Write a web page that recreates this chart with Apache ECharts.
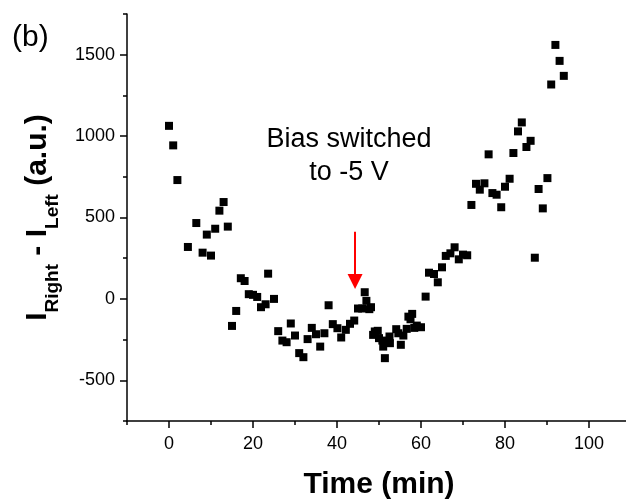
<!DOCTYPE html>
<html>
<head>
<meta charset="utf-8">
<script src="https://cdn.jsdelivr.net/npm/echarts@6/dist/echarts.min.js"></script>
<style>
html,body{margin:0;padding:0;background:#fff;overflow:hidden;}
#chart{width:626px;height:500px;}
</style>
</head>
<body>
<div id="chart"></div>
<script>
// Time (min)
var timeMin = [0.0,1.0,2.0,4.5,6.5,8.0,9.0,10.0,11.0,12.0,13.0,14.0,15.0,16.0,17.1,18.0,19.0,20.0,21.0,21.9,
  23.0,23.6,25.0,26.0,27.0,28.0,29.0,30.0,31.0,32.0,33.0,34.0,35.0,36.0,37.0,38.0,39.0,40.1,41.0,42.1,
  43.1,44.1,45.0,46.0,46.6,47.0,47.7,48.1,48.6,49.0,49.7,50.0,50.8,51.0,51.4,52.5,52.6,54.1,54.6,55.2,
  55.8,56.6,57.0,57.5,57.9,58.4,59.0,60.0,61.1,61.9,63.1,64.0,65.0,65.9,67.0,68.0,69.0,70.0,71.0,72.0,
  73.1,74.0,75.1,76.1,77.0,78.0,79.1,80.0,81.1,82.0,83.1,84.0,85.1,86.1,87.1,88.0,89.0,90.1,91.0,92.0,
  93.0,94.0];
// I_Right - I_Left (a.u.)
var diffValues = [1063,943,730,319,466,284,395,266,431,542,595,444,-166,-74,127,110,29,25,12,-51,
  -33,155,0,-198,-256,-266,-151,-225,-333,-358,-247,-178,-217,-293,-211,-39,-155,-180,-237,-190,
  -153,-133,-59,-59,41,-12,-63,-51,-221,-200,-196,-241,-256,-293,-364,-231,-272,-186,-211,-282,
  -225,-184,-109,-125,-92,-178,-164,-174,14,161,153,102,194,264,280,317,243,272,268,577,
  707,671,710,888,650,640,563,689,738,896,1029,1084,933,971,253,675,556,742,1317,1560,
  1462,1370];
var xMajorTicks = [0,20,40,60,80,100];
var yMajorTicks = [-500,0,500,1000,1500];
// arrow annotation (data coords): x, from y, to y
var arrowX = [44.3];
var arrowY = [413, 107];
var annotationText = ['Bias switched', 'to -5 V'];
var panelLabel = ['(b)'];

var FONT = "'Liberation Sans', Arial, sans-serif";
var points = timeMin.map(function(t, i){ return [t, diffValues[i]]; });

var chart = echarts.init(document.getElementById('chart'), null, {renderer:'canvas'});
var option = {
  animation: false,
  backgroundColor: '#fff',
  grid: {left: 127, right: -5, top: 14, bottom: 79, containLabel: false, outerBoundsMode: 'none'},
  xAxis: [{
    type: 'value', min: -10, max: 110, interval: 10,
    splitLine: {show: false},
    axisLine: {show: true, onZero: false, lineStyle: {color: '#000', width: 1.5}},
    axisTick: {show: true, length: 4, lineStyle: {color: '#000', width: 1.5}},
    axisLabel: {
      margin: 14, color: '#000', fontSize: 18, fontFamily: FONT,
      formatter: function(v){ return xMajorTicks.indexOf(v) >= 0 ? String(v) : ''; }
    },
    name: 'Time (min)', nameLocation: 'middle', nameGap: 49,
    nameTextStyle: {fontSize: 30, fontWeight: 'bold', fontFamily: FONT, color: '#000'}
  }, {
    type: 'value', min: -10, max: 110, position: 'bottom', offset: 0,
    splitLine: {show: false},
    axisLine: {show: false, onZero: false},
    axisTick: {show: true, length: 7, customValues: xMajorTicks, lineStyle: {color: '#000', width: 1.5}},
    axisLabel: {show: false}
  }],
  yAxis: [{
    type: 'value', min: -750, max: 1750, interval: 250,
    splitLine: {show: false},
    axisLine: {show: true, onZero: false, lineStyle: {color: '#000', width: 1.5}},
    axisTick: {show: true, length: 4, lineStyle: {color: '#000', width: 1.5}},
    axisLabel: {
      margin: 12, color: '#000', fontSize: 18, fontFamily: FONT,
      formatter: function(v){ return yMajorTicks.indexOf(v) >= 0 ? String(v) : ''; }
    },
    name: '{a|I}{s|Right}{a| - I}{s|Left}{a| (a.u.)}',
    nameLocation: 'middle', nameRotate: 90, nameGap: 70,
    nameTextStyle: {
      color: '#000', fontFamily: FONT,
      rich: {
        a: {fontSize: 30, fontWeight: 'bold', fontFamily: FONT, color: '#000', lineHeight: 34, verticalAlign: 'top'},
        s: {fontSize: 19, fontWeight: 'bold', fontFamily: FONT, color: '#000', lineHeight: 20, verticalAlign: 'top', padding: [20,0,0,0]}
      }
    }
  }, {
    type: 'value', min: -750, max: 1750, position: 'left', offset: 0,
    splitLine: {show: false},
    axisLine: {show: false, onZero: false},
    axisTick: {show: true, length: 7, customValues: yMajorTicks, lineStyle: {color: '#000', width: 1.5}},
    axisLabel: {show: false}
  }],
  series: [{
    type: 'scatter',
    xAxisIndex: 0, yAxisIndex: 0,
    symbol: 'rect', symbolSize: 8,
    itemStyle: {color: '#000', opacity: 1},
    data: points,
    markLine: {
      silent: true,
      symbol: ['none', 'triangle'],
      symbolSize: [15, 15],
      label: {show: false},
      lineStyle: {color: '#ff0000', width: 2, type: 'solid'},
      itemStyle: {color: '#ff0000'},
      data: [[{coord: [arrowX[0], arrowY[0]]}, {coord: [arrowX[0], arrowY[1]]}]]
    }
  }],
  graphic: [{
    type: 'text', x: 349, y: 156,
    style: {
      text: annotationText.join('\n'), font: '27px ' + FONT, fill: '#000',
      align: 'center', verticalAlign: 'middle', lineHeight: 33.5
    }
  }, {
    type: 'text', x: 12, y: 38,
    style: {
      text: panelLabel[0], font: '30px ' + FONT, fill: '#000',
      align: 'left', verticalAlign: 'middle'
    }
  }]
};
chart.setOption(option);
</script>
</body>
</html>
